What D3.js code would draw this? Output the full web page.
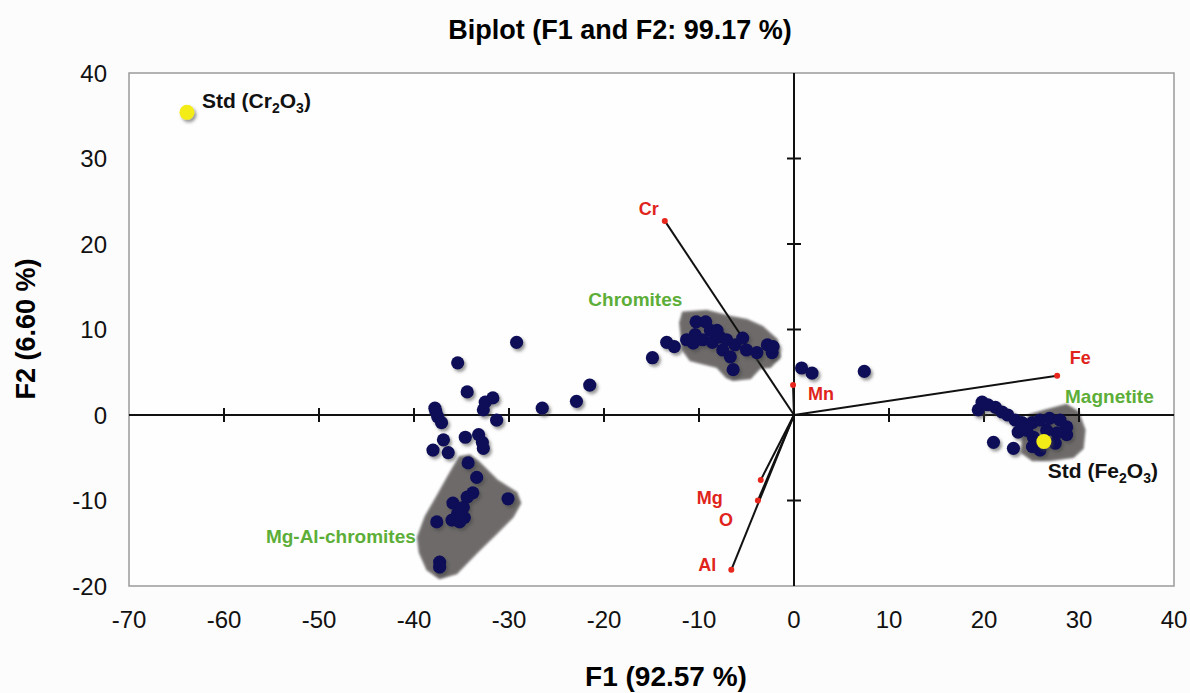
<!DOCTYPE html>
<html>
<head>
<meta charset="utf-8">
<script src="https://cdn.jsdelivr.net/npm/d3@7"></script>
<style>
  body { margin: 0; background: #fcfcfc; }
  svg { font-family: Arial, "Liberation Sans", sans-serif; }
</style>
</head>
<body>
<svg id="biplot" width="1190" height="693"></svg>
<script>
// observations (F1, F2)
var obsF1 = [-14.9, -13.4, -12.6, -10.3, -9.3, -8.1, -10.4, -10.6, -9.6, -8.6, -7.8, -7.1, -7.5, -6.7, -6.2, -5.4, -5.0, -6.4, -3.9, -2.8, -2.3, -2.2, -8.8, -11.3,
  0.8, 1.9, 7.4,
  19.8, 19.4, 20.4, 21.2, 21.9, 22.5, 23.3, 24.0, 23.6, 21.0, 23.1, 25.1, 25.9, 26.9, 28.0, 28.7, 28.7, 25.2, 25.1, 25.9, 27.5, 27.7, 26.6, 24.5,
  -29.2, -35.4, -34.4, -32.5, -31.7, -32.7, -31.3, -37.8, -37.5, -37.1, -37.7, -36.9, -38.0, -36.4, -34.6, -33.2, -32.8, -32.7,
  -34.3, -33.4, -33.8, -34.4, -35.9, -34.8, -35.4, -36.0, -35.2, -37.6, -30.1, -37.3, -37.3, -34.7,
  -26.5, -22.9, -21.5];
var obsF2 = [6.7, 8.5, 8.0, 10.9, 10.9, 9.9, 9.4, 8.4, 8.8, 8.5, 9.1, 8.8, 7.6, 6.8, 8.2, 9.0, 7.6, 5.3, 7.3, 8.2, 7.3, 8.0, 9.9, 8.8,
  5.5, 4.9, 5.1,
  1.5, 0.6, 1.2, 0.9, 0.35, 0.0, -0.6, -0.9, -2.0, -3.2, -3.9, -0.9, -0.6, -0.4, -0.6, -1.4, -2.3, -2.6, -3.7, -4.1, -3.3, -2.1, -1.8, -1.8,
  8.5, 6.1, 2.7, 1.5, 2.0, 0.6, -0.6, 0.8, -0.2, -0.9, 0.4, -2.9, -4.1, -4.4, -2.6, -2.3, -3.2, -3.9,
  -5.6, -7.3, -9.1, -9.6, -10.3, -10.8, -11.5, -12.3, -12.5, -12.5, -9.8, -17.2, -17.8, -12.0,
  0.8, 1.6, 3.5];

// standards
var stdNames = ["Std (Cr|2|O|3|)", "Std (Fe|2|O|3|)"];
var stdF1 = [-63.9, 26.3];
var stdF2 = [35.4, -3.1];

// variables (loadings)
var varNames = ["Cr", "Fe", "Mn", "Mg", "O", "Al"];
var varF1 = [-13.6, 27.7, -0.1, -3.5, -3.8, -6.6];
var varF2 = [22.7, 4.6, 3.5, -7.6, -10.0, -18.1];

// group outlines
var groupNames = ["Chromites", "Magnetite", "Mg-Al-chromites"];
var hullChromites = [[-11.7, 12.0], [-9.2, 12.2], [-6.7, 11.5], [-4.9, 11.1], [-3.3, 10.3], [-1.8, 8.8], [-1.5, 6.8], [-2.5, 5.6], [-3.6, 5.5], [-4.6, 4.3], [-6.4, 4.1], [-7.1, 4.4], [-8.1, 5.6], [-9.9, 6.1], [-10.9, 6.4], [-11.7, 7.6], [-12.0, 10.8]];
var hullMagnetite = [[24.8, 0.0], [26.6, 0.6], [28.7, 1.2], [29.9, 0.35], [30.6, -1.75], [30.4, -3.9], [29.4, -4.9], [26.9, -5.3], [25.1, -5.3], [24.0, -4.4], [24.1, -1.75]];
var hullMgAl = [[-35.2, -4.9], [-34.1, -4.7], [-33.1, -5.6], [-31.3, -7.6], [-29.2, -9.1], [-28.8, -10.3], [-29.6, -11.9], [-31.3, -13.8], [-33.4, -16.1], [-35.5, -18.5], [-37.3, -19.1], [-38.6, -18.1], [-39.4, -16.1], [-39.6, -14.3], [-38.8, -11.9], [-37.6, -9.6], [-36.2, -6.8]];

var xTicks = [-70, -60, -50, -40, -30, -20, -10, 0, 10, 20, 30, 40];
var yTicks = [-20, -10, 0, 10, 20, 30, 40];

var svg = d3.select("svg#biplot");
var plotL = 129, plotR = 1174, plotT = 73, plotB = 586;

var x = d3.scaleLinear().domain([-70, 40]).range([plotL, plotR]);
var y = d3.scaleLinear().domain([-20, 40]).range([plotB, plotT]);

var defs = svg.append("defs");
var sh = defs.append("filter").attr("id", "shadow").attr("x", "-50%").attr("y", "-50%").attr("width", "200%").attr("height", "200%");
sh.append("feDropShadow").attr("dx", 2).attr("dy", 2.5).attr("stdDeviation", 1.6)
  .attr("flood-color", "#444").attr("flood-opacity", 0.55);
var bl = defs.append("filter").attr("id", "soft").attr("x", "-20%").attr("y", "-20%").attr("width", "140%").attr("height", "140%");
bl.append("feGaussianBlur").attr("stdDeviation", 1.3);

// frame
svg.append("rect")
  .attr("x", plotL).attr("y", plotT)
  .attr("width", plotR - plotL).attr("height", plotB - plotT)
  .attr("fill", "#fefefe").attr("stroke", "#9a9a9a").attr("stroke-width", 1.5);

// hulls
var line = d3.line().x(function(d) { return x(d[0]); }).y(function(d) { return y(d[1]); }).curve(d3.curveLinearClosed);
svg.append("g").selectAll("path")
  .data([hullChromites, hullMagnetite, hullMgAl])
  .enter().append("path")
    .attr("d", line)
    .attr("fill", "#6e6a6a")
    .attr("stroke", "#7a7676").attr("stroke-width", 2).attr("stroke-linejoin", "round")
    .attr("filter", "url(#soft)");

// axes through origin with crossing ticks
var axes = svg.append("g").attr("stroke", "#111").attr("stroke-width", 2);
axes.append("line").attr("x1", plotL).attr("x2", plotR).attr("y1", y(0)).attr("y2", y(0));
axes.append("line").attr("x1", x(0)).attr("x2", x(0)).attr("y1", plotT).attr("y2", plotB);
axes.selectAll("line.xt")
  .data(xTicks.slice(1, -1))
  .enter().append("line")
    .attr("class", "xt")
    .attr("x1", function(d) { return x(d); }).attr("x2", function(d) { return x(d); })
    .attr("y1", y(0) - 7).attr("y2", y(0) + 7);
axes.selectAll("line.yt")
  .data(yTicks.slice(1, -1))
  .enter().append("line")
    .attr("class", "yt")
    .attr("y1", function(d) { return y(d); }).attr("y2", function(d) { return y(d); })
    .attr("x1", x(0) - 7).attr("x2", x(0) + 7);

// tick labels
svg.append("g").selectAll("text")
  .data(xTicks)
  .enter().append("text")
    .attr("x", function(d) { return x(d); })
    .attr("y", 628)
    .attr("text-anchor", "middle")
    .attr("font-size", 24)
    .attr("fill", "#111")
    .text(function(d) { return d; });
svg.append("g").selectAll("text")
  .data(yTicks)
  .enter().append("text")
    .attr("x", 107)
    .attr("y", function(d) { return y(d) + 8.5; })
    .attr("text-anchor", "end")
    .attr("font-size", 24)
    .attr("fill", "#111")
    .text(function(d) { return d; });

// variable vectors
var vars = varNames.map(function(n, i) { return { name: n, f1: varF1[i], f2: varF2[i] }; });
svg.append("g").selectAll("line")
  .data(vars)
  .enter().append("line")
    .attr("x1", x(0)).attr("y1", y(0))
    .attr("x2", function(d) { return x(d.f1); })
    .attr("y2", function(d) { return y(d.f2); })
    .attr("stroke", "#111").attr("stroke-width", 2);

// observations
var obs = obsF1.map(function(v, i) { return [v, obsF2[i]]; });
svg.append("g").attr("filter", "url(#shadow)").selectAll("circle")
  .data(obs)
  .enter().append("circle")
    .attr("cx", function(d) { return x(d[0]); })
    .attr("cy", function(d) { return y(d[1]); })
    .attr("r", 6.6)
    .attr("fill", "#0c0c58");

// variable end points and labels
svg.append("g").selectAll("circle")
  .data(vars)
  .enter().append("circle")
    .attr("cx", function(d) { return x(d.f1); })
    .attr("cy", function(d) { return y(d.f2); })
    .attr("r", 3)
    .attr("fill", "#e8261c");
var varLabelOff = { Cr: [-16, -12], Fe: [23, -18], Mn: [28, 8], Mg: [-51, 18], O: [-32, 19], Al: [-24, -5] };
svg.append("g").selectAll("text")
  .data(vars)
  .enter().append("text")
    .attr("x", function(d) { return x(d.f1) + varLabelOff[d.name][0]; })
    .attr("y", function(d) { return y(d.f2) + varLabelOff[d.name][1] + 6.5; })
    .attr("text-anchor", "middle")
    .attr("font-size", 18)
    .attr("font-weight", "bold")
    .attr("fill", "#e0241b")
    .text(function(d) { return d.name; });

// standards
var stds = stdNames.map(function(n, i) { return { name: n, f1: stdF1[i], f2: stdF2[i] }; });
svg.append("g").attr("filter", "url(#shadow)").selectAll("circle")
  .data(stds)
  .enter().append("circle")
    .attr("cx", function(d) { return x(d.f1); })
    .attr("cy", function(d) { return y(d.f2); })
    .attr("r", 7.5)
    .attr("fill", "#f4ec12");
var stdOff = [[15, -4], [4, 36]];
stds.forEach(function(d, i) {
  var t = svg.append("text")
    .attr("x", x(d.f1) + stdOff[i][0])
    .attr("y", y(d.f2) + stdOff[i][1])
    .attr("font-size", 21)
    .attr("font-weight", "bold")
    .attr("fill", "#111");
  d.name.split("|").forEach(function(part, k) {
    var sub = k % 2 === 1;
    t.append("tspan")
      .attr("font-size", sub ? 14 : 21)
      .attr("dy", sub ? 5 : (k === 0 ? 0 : -5))
      .text(part);
  });
});

// group labels
var groupPos = [[-16.7, 12.7], [33.2, 1.4], [-47.7, -15.0]];
svg.append("g").selectAll("text")
  .data(groupNames)
  .enter().append("text")
    .attr("x", function(d, i) { return x(groupPos[i][0]); })
    .attr("y", function(d, i) { return y(groupPos[i][1]); })
    .attr("text-anchor", "middle")
    .attr("font-size", 19)
    .attr("font-weight", "bold")
    .attr("fill", "#5cae38")
    .text(function(d) { return d; });

// titles
svg.append("text")
  .attr("x", 620).attr("y", 39)
  .attr("text-anchor", "middle")
  .attr("font-size", 27).attr("font-weight", "bold")
  .text("Biplot (F1 and F2: 99.17 %)");
svg.append("text")
  .attr("x", 666).attr("y", 686)
  .attr("text-anchor", "middle")
  .attr("font-size", 28).attr("font-weight", "bold")
  .text("F1 (92.57 %)");
svg.append("text")
  .attr("transform", "translate(35,329) rotate(-90)")
  .attr("text-anchor", "middle")
  .attr("font-size", 27).attr("font-weight", "bold")
  .text("F2 (6.60 %)");
</script>
</body>
</html>
